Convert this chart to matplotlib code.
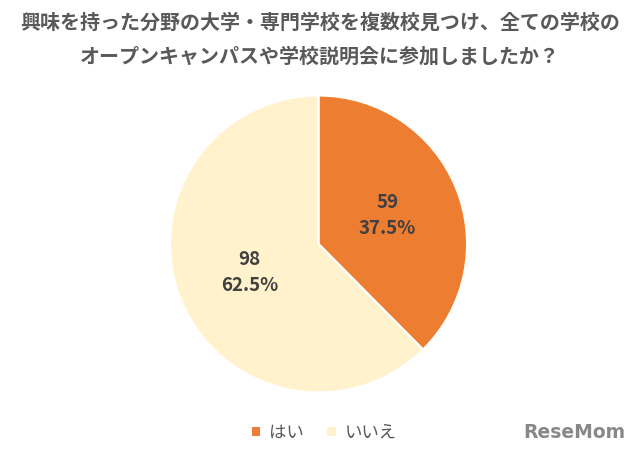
import numpy as np
import matplotlib.pyplot as plt

plt.rcParams['font.family'] = ['Noto Sans CJK JP', 'DejaVu Sans']

labels = ['はい', 'いいえ']
counts = [59, 98]
percents = [37.5, 62.5]
colors = ['#ED7D31', '#FFF2CC']
title = '興味を持った分野の大学・専門学校を複数校見つけ、全ての学校の\nオープンキャンパスや学校説明会に参加しましたか？'

fig = plt.figure(figsize=(6.4, 4.55), dpi=100)
fig.text(0.5, 0.914, title, ha='center', va='center', fontsize=14.4,
         fontweight='bold', color='#595959', linespacing=1.7)

ax = fig.add_axes([0.2657, 0.1374, 0.464, 0.6527])
wedges, _ = ax.pie(
    counts, colors=colors, startangle=90, counterclock=False,
    wedgeprops=dict(edgecolor='white', linewidth=1.5))

# value labels: count + percentage at mid-radius of each slice
for w, n, p in zip(wedges, counts, percents):
    ang = np.deg2rad((w.theta1 + w.theta2) / 2)
    ax.text(0.5 * np.cos(ang), 0.5 * np.sin(ang), '{}\n{:.1f}%'.format(n, p),
            ha='center', va='center', fontsize=13.5, fontweight='bold',
            color='#404040', linespacing=1.45)
ax.set_xlim(-1, 1)
ax.set_ylim(-1, 1)
ax.set_aspect('equal')

fig.legend(wedges, labels, loc='center', bbox_to_anchor=(0.506, 0.049),
           ncol=2, frameon=False, fontsize=12.5, labelcolor='#595959',
           handlelength=0.6, handleheight=0.6, handletextpad=0.45,
           columnspacing=1.3)

fig.text(0.977, 0.049, 'ReseMom', ha='right', va='center', fontsize=13.5,
         fontweight='bold', color='#888888', family='DejaVu Sans')

fig.savefig('out.png', dpi=100)
